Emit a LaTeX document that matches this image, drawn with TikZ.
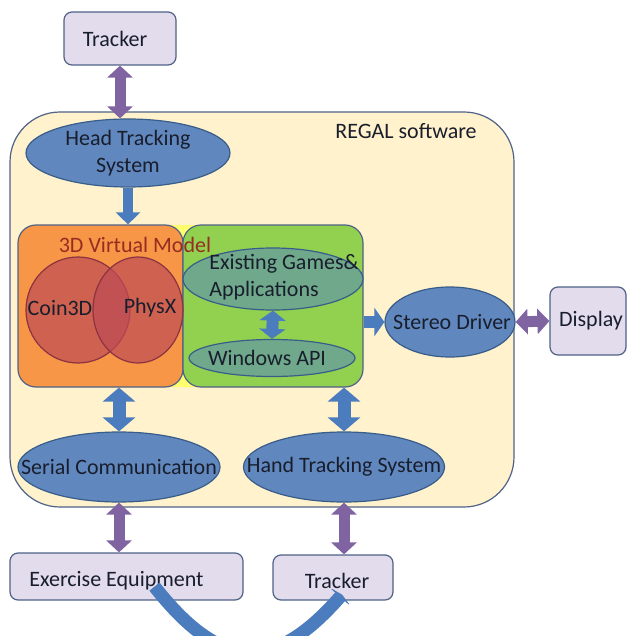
\documentclass[tikz,border=0pt]{standalone}
\usepackage{fontspec}
\setmainfont{Carlito}
\usetikzlibrary{shapes.geometric,arrows.meta}

\definecolor{textdark}{RGB}{25,30,45}
\definecolor{edgeblue}{RGB}{79,98,135}
\definecolor{regalfill}{RGB}{255,242,204}
\definecolor{lavender}{RGB}{226,220,236}
\definecolor{ovalblue}{RGB}{97,136,190}
\definecolor{ovaledge}{RGB}{56,93,138}
\definecolor{arrowblue}{RGB}{75,125,190}
\definecolor{arrowpurple}{RGB}{128,100,162}
\definecolor{orangefill}{RGB}{247,150,70}
\definecolor{greenfill}{RGB}{146,208,80}
\definecolor{yellowfill}{RGB}{255,255,110}
\definecolor{libfill}{RGB}{190,75,85}
\definecolor{libedge}{RGB}{140,50,65}
\definecolor{gamefill}{RGB}{112,168,140}
\definecolor{modeltext}{RGB}{150,45,35}

\begin{document}
\begin{tikzpicture}[x=1pt,y=-1pt,
every node/.style={
align=center,
anchor=center,
inner sep=0pt,
font=\fontsize{22}{27}\selectfont,
text=textdark,
},
box/.style={
draw=edgeblue,
line width=1.2pt,
rounded corners=8pt,
},
oval/.style={
ellipse,
draw=ovaledge,
line width=1.2pt,
fill=ovalblue,
},
lib/.style={
ellipse,
draw=libedge,
line width=1.2pt,
fill=libfill,
fill opacity=0.7,
},
barrow/.style={
draw=arrowblue,
line width=13pt,
arrows={Triangle[length=14pt,width=32pt]-Triangle[length=14pt,width=32pt]},
},
sarrow/.style={
draw=arrowblue,
line width=10pt,
arrows={-Triangle[length=12pt,width=24pt]},
},
parrow/.style={
draw=arrowpurple,
line width=11pt,
arrows={Triangle[length=12pt,width=25pt]-Triangle[length=12pt,width=25pt]},
}]

\useasboundingbox (0,0) rectangle (627,636);

%REGAL box
\node[box,rounded corners=50pt,fill=regalfill,minimum width=504pt,minimum height=395pt] (regal) at (262,309.5) {};
\node (regaltxt) at (406,131) {REGAL software};

%Trackers and devices
\node[box,fill=lavender,minimum width=112pt,minimum height=53pt,
label={[xshift=-5pt]center:Tracker}] (trk1) at (120,38.5) {};
\node[box,fill=lavender,minimum width=76pt,minimum height=68pt,
label={[xshift=3pt]center:Display}] (disp) at (588,321) {};
\node[box,fill=lavender,minimum width=233pt,minimum height=47pt,
label={[xshift=-10pt,yshift=-4pt]center:Exercise Equipment}] (exer) at (126.5,576.5) {};
\node[box,fill=lavender,minimum width=120pt,minimum height=45pt,
label={[xshift=4pt,yshift=-3pt]center:Tracker}] (trk2) at (333,577.5) {};

%Head tracking
\node[oval,minimum width=204pt,minimum height=68pt,
label={[align=center]center:Head Tracking\\System}] (head) at (128,153) {};

%3D virtual model and applications
\node[box,rounded corners=18pt,draw=none,fill=yellowfill,minimum width=345pt,minimum height=162pt] (model) at (190.5,306) {};
\node[box,rounded corners=18pt,fill=orangefill,minimum width=165pt,minimum height=162pt] (virt) at (100.5,306) {};
\node[box,rounded corners=18pt,fill=greenfill,minimum width=180pt,minimum height=162pt] (apps) at (273,306) {};
\node[lib,minimum width=104pt,minimum height=106pt] (coin) at (78,310) {};
\node[lib,minimum width=90pt,minimum height=106pt] (physx) at (138,310) {};
\node (cointxt) at (60,308) {Coin3D};
\node (physxtxt) at (150,308) {PhysX};
\node[text=modeltext] (modeltxt) at (135,245) {3D Virtual Model};
\node[oval,fill=gamefill,minimum width=180pt,minimum height=62pt,
label={[xshift=11pt,yshift=2pt,align=left]center:Existing Games\&\\Applications}] (games) at (273,279) {};
\node[oval,fill=gamefill,minimum width=166pt,minimum height=37pt,
label={[xshift=-5pt]center:Windows API}] (win) at (272,358) {};

%Drivers and communication
\node[oval,minimum width=130pt,minimum height=70pt,
label={[xshift=2pt]center:Stereo Driver}] (stereo) at (450,322) {};
\node[oval,minimum width=202pt,minimum height=70pt,
label={center:Serial Communication}] (serial) at (119,467) {};
\node[oval,minimum width=201pt,minimum height=70pt,
label={center:Hand Tracking System}] (hand) at (344,467) {};

%Connectors
\draw[parrow] (trk1.south) -- (trk1.south |- head.north);
\draw[sarrow] (head.south) -- (head.south |- virt.north);
\draw[barrow,line width=12pt,arrows={Triangle[length=10pt,width=26pt]-Triangle[length=10pt,width=26pt]}] (games.south) -- (win.north);
\draw[sarrow,line width=12pt,arrows={-Triangle[length=10pt,width=28pt]}] (stereo.west -| apps.east) -- (stereo.west);
\draw[parrow] (stereo.east) -- (disp.west);
\draw[barrow] (serial.north |- virt.south) -- (serial.north);
\draw[barrow] (hand.north |- apps.south) -- (hand.north);
\draw[parrow] (serial.south) -- (serial.south |- exer.north);
\draw[parrow] (hand.south) -- (hand.south |- trk2.north);
\draw[draw=arrowblue,line width=13pt,arrows={-Triangle[length=3pt,width=30pt]}]
([xshift=28pt,yshift=14pt]exer.south) .. controls (222,672) and (274,672) .. ([xshift=9pt,yshift=6pt]trk2.south);
\end{tikzpicture}
\end{document}
